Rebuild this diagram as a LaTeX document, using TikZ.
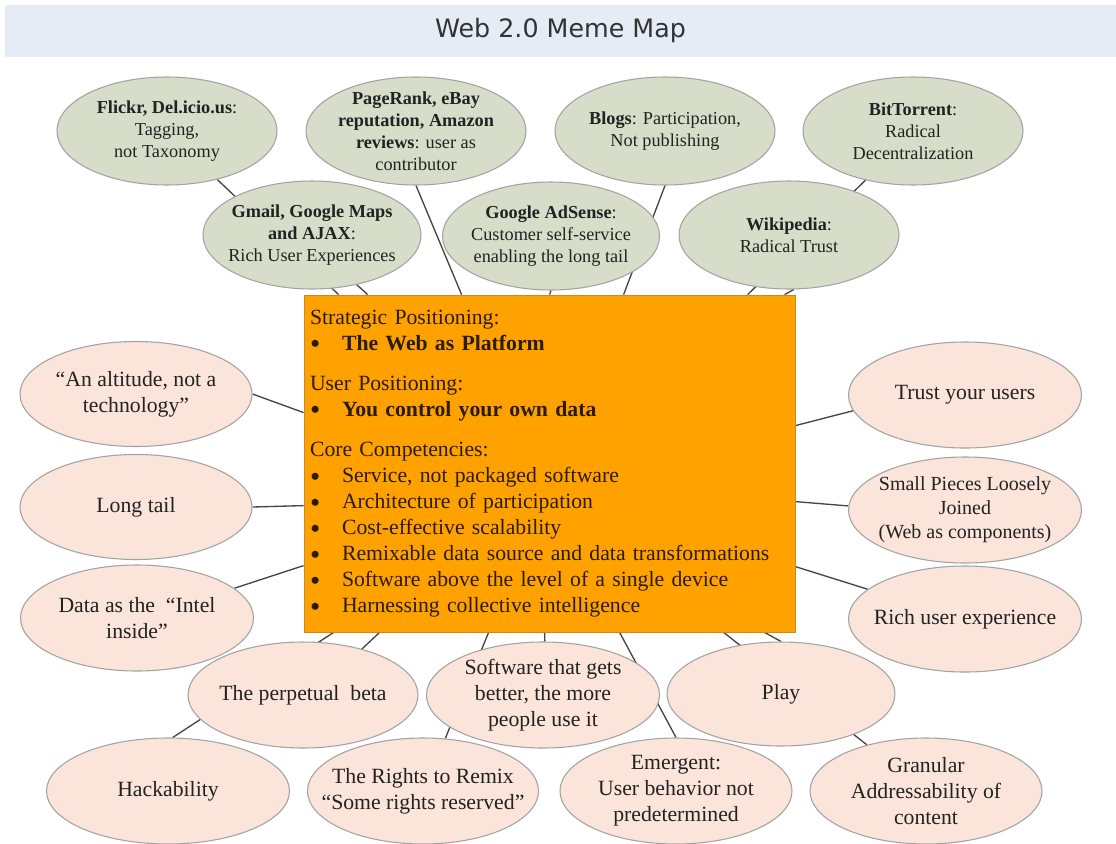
\documentclass[tikz,border=0pt]{standalone}
\usepackage{fontspec}
\usepackage{graphicx}
\setmainfont{Liberation Serif}
\newfontfamily\titlefont{DejaVu Sans}
\usetikzlibrary{shapes.geometric,backgrounds,calc}
\definecolor{greenfill}{HTML}{D8DDC9}
\definecolor{pinkfill}{HTML}{FBE5DA}
\definecolor{ellborder}{HTML}{A3A3A3}
\definecolor{orangefill}{HTML}{FFA200}
\definecolor{orangeborder}{HTML}{C98A1E}
\definecolor{titlebg}{HTML}{E5ECF6}
\definecolor{linecol}{HTML}{454545}
\definecolor{txt}{HTML}{222222}
\definecolor{boxtxt}{HTML}{2B1C06}
\newcommand\bulitem{\makebox[24pt][l]{\smash{\raisebox{-2.5pt}{\scalebox{1.35}{•}}}}}
\begin{document}
\begin{tikzpicture}[x=0.75pt,y=-0.75pt,
  ell/.style n args={2}{ellipse, draw=ellborder, line width=0.8pt, inner xsep=-40pt, inner ysep=-20pt, align=center, text=txt, minimum width=#1*0.75pt, minimum height=#2*0.75pt},
  gnode/.style={fill=greenfill, font=\fontsize{13.7}{16.5}\selectfont},
  pnode/.style={fill=pinkfill, font=\fontsize{16.3}{19.5}\selectfont},
  pnodesmall/.style={fill=pinkfill, font=\fontsize{15}{18}\selectfont},
  conn/.style={draw=linecol, line width=1pt},
  mainbox/.style={rectangle, draw=orangeborder, line width=0.6pt, fill=orangefill, text=boxtxt,
    minimum width=368.25pt, minimum height=252.75pt, text width=359.25pt, inner xsep=4.5pt, inner ysep=0pt,
    align=left, font=\fontsize{16.3}{19.5}\selectfont},
  titleband/.style={rectangle, fill=titlebg, minimum width=1111*0.75pt, minimum height=52*0.75pt, inner sep=0pt,
    text=black!80, font=\titlefont\fontsize{19}{22}\selectfont}
]
\begin{pgfonlayer}{background}
\fill[white] (0,0) rectangle (1116,843);
\end{pgfonlayer}
\useasboundingbox (0,0) rectangle (1116,843);

\node[titleband] (title) at (560.5,31) {Web 2.0 Meme Map};

% central box
\node[mainbox] (core) at (549.5,463.5) {Strategic Positioning:\\
\bulitem\textbf{The Web as Platform}\\[10.5pt]
User Positioning:\\
\bulitem\textbf{You control your own data}\\[11pt]
Core Competencies:\\
\bulitem Service, not packaged software\\
\bulitem Architecture of participation\\
\bulitem Cost-effective scalability\\
\bulitem Remixable data source and data transformations\\
\bulitem Software above the level of a single device\\
\bulitem Harnessing collective intelligence};

% green ellipses
\node[ell={220}{108}, gnode] (flickr) at (167,131) {\textbf{Flickr, Del.icio.us}:\\Tagging,\\not Taxonomy};
\node[ell={220}{108}, gnode] (pagerank) at (416,131) {\textbf{PageRank, eBay}\\\textbf{reputation, Amazon}\\\textbf{reviews}: user as\\contributor};
\node[ell={220}{108}, gnode] (blogs) at (665,131) {\textbf{Blogs}: Participation,\\Not publishing};
\node[ell={220}{108}, gnode] (bittorrent) at (913,131) {\textbf{BitTorrent}:\\Radical\\Decentralization};
\node[ell={218}{108}, gnode] (gmail) at (312,235) {\textbf{Gmail, Google Maps}\\\textbf{and AJAX}:\\Rich User Experiences};
\node[ell={217}{108}, gnode] (adsense) at (551,236) {\textbf{Google AdSense}:\\Customer self-service\\enabling the long tail};
\node[ell={220}{108}, gnode] (wikipedia) at (789,235) {\textbf{Wikipedia}:\\Radical Trust};

% pink ellipses
\node[ell={232}{105}, pnode] (altitude) at (136,394) {“An altitude, not a\\technology”};
\node[ell={232}{105}, pnode] (longtail) at (136,507) {Long tail};
\node[ell={233}{106}, pnode] (data) at (137,618) {Data as the\ \ “Intel\\inside”};
\node[ell={233}{106}, pnode] (trust) at (965,395) {Trust your users};
\node[ell={233}{106}, pnodesmall] (small) at (965,510) {Small Pieces Loosely\\Joined\\(Web as components)};
\node[ell={233}{106}, pnode] (rich) at (965,619) {Rich user experience};
\node[ell={230}{106}, pnode] (perpetual) at (303,695) {The perpetual\ \ beta};
\node[ell={233}{106}, pnode] (software) at (543,695) {Software that gets\\better, the more\\people use it};
\node[ell={228}{104}, pnode] (play) at (781,694) {Play};
\node[ell={243}{106}, pnode] (hack) at (168,791) {Hackability};
\node[ell={231}{106}, pnode] (rights) at (423,791) {The Rights to Remix\\“Some rights reserved”};
\node[ell={232}{106}, pnode] (emergent) at (676,791) {Emergent:\\User behavior not\\predetermined};
\node[ell={232}{106}, pnode] (granular) at (926,791) {Granular\\Addressability of\\content};

% connectors (behind the shapes)
\begin{pgfonlayer}{background}
\draw[conn] (flickr.-44) -- ($(core.north west)+(35,0)$);
\draw[conn] (gmail.-48) -- ($(core.north west)+(64,0)$);
\draw[conn] (pagerank.-90) -- ($(core.north west)+(158,0)$);
\draw[conn] (adsense.-90) -- ($(core.north west)+(246,0)$);
\draw[conn] (blogs.-90) -- ($(core.north west)+(320,0)$);
\draw[conn] (wikipedia.-85) -- ($(core.north west)+(481,0)$);
\draw[conn] (bittorrent.-134) -- ($(core.north west)+(444,0)$);
\draw[conn] (altitude.0) -- ($(core.north west)+(0,118)$);
\draw[conn] (longtail.0) -- ($(core.north west)+(0,211)$);
\draw[conn] (data.17) -- ($(core.north west)+(0,271)$);
\draw[conn] (trust.188) -- ($(core.north east)+(0,131)$);
\draw[conn] (small.178) -- ($(core.north east)+(0,207)$);
\draw[conn] (rich.163) -- ($(core.north east)+(0,272)$);
\draw[conn] (hack.85) -- ($(core.south west)+(30,0)$);
\draw[conn] (perpetual.38) -- ($(core.south west)+(76,0)$);
\draw[conn] (rights.67) -- ($(core.south west)+(185,0)$);
\draw[conn] (software.88) -- ($(core.south west)+(241,0)$);
\draw[conn] (emergent.90) -- ($(core.south west)+(316,0)$);
\draw[conn] (play.90) -- ($(core.south west)+(461,0)$);
\draw[conn] (granular.142) -- ($(core.south west)+(420,0)$);
\end{pgfonlayer}
\end{tikzpicture}
\end{document}
